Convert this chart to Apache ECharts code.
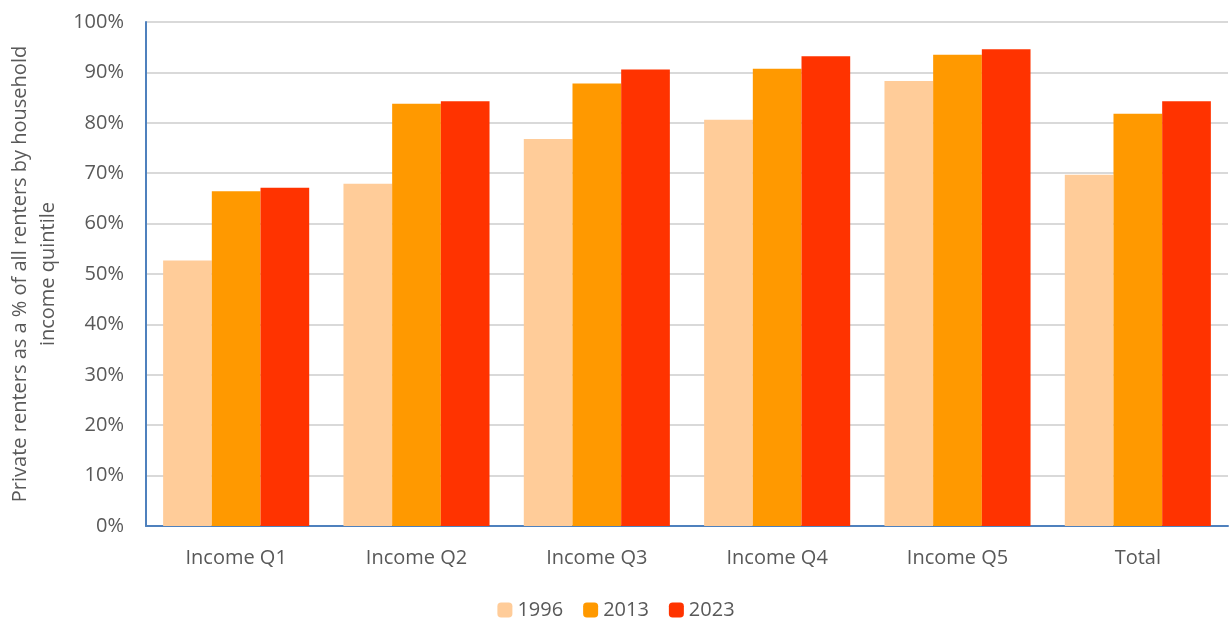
<!DOCTYPE html>
<html><head><meta charset="utf-8">
<script src="https://cdn.jsdelivr.net/npm/echarts@6/dist/echarts.min.js"></script>
<style>html,body{margin:0;padding:0;background:#fff}#c{width:1232px;height:618px}</style>
</head><body><div id="c"></div>
<script>
const categories = ["Income Q1","Income Q2","Income Q3","Income Q4","Income Q5","Total"];
const years = ["1996","2013","2023"];
const s1996 = [52.7, 67.9, 76.8, 80.6, 88.3, 69.7];
const s2013 = [66.4, 83.8, 87.8, 90.7, 93.5, 81.8];
const s2023 = [67.1, 84.3, 90.6, 93.2, 94.6, 84.3];
const yTicks = [0,10,20,30,40,50,60,70,80,90,100];
const colors = ["#FFCC99","#FF9900","#FF3300"];
const FONT = "Open Sans";
const chart = echarts.init(document.getElementById('c'), null, {renderer:'canvas'});
chart.setOption({
  animation:false,
  textStyle:{fontFamily:FONT},
  grid:{left:146,right:4,top:22,bottom:92,containLabel:false,outerBoundsMode:'none'},
  legend:{bottom:-7,left:'center',itemWidth:15,itemHeight:15,itemGap:20,
    textStyle:{fontSize:20,color:'#595959',fontFamily:FONT},
    data:years},
  xAxis:{type:'category',data:categories,
    axisLine:{lineStyle:{color:'#4F81BD',width:2}},
    axisTick:{show:false},
    axisLabel:{fontSize:20,color:'#595959',margin:22,fontFamily:FONT}},
  yAxis:{type:'value',min:yTicks[0],max:yTicks[yTicks.length-1],interval:10,
    name:'Private renters as a % of all renters by household\nincome quintile',
    nameLocation:'middle',nameGap:83,nameRotate:90,
    nameTextStyle:{fontSize:20,color:'#595959',lineHeight:28,fontFamily:FONT},
    axisLine:{show:true,lineStyle:{color:'#4F81BD',width:2}},
    axisTick:{show:false},
    splitLine:{lineStyle:{color:'#D9D9D9',width:2}},
    axisLabel:{fontSize:20,color:'#595959',margin:22,formatter:v=>v+'%',fontFamily:FONT}},
  series:[s1996,s2013,s2023].map((d,i)=>({
    name:years[i],type:'bar',data:d,barGap:'0%',barCategoryGap:'19%',
    itemStyle:{color:colors[i]}
  }))
});
</script></body></html>
